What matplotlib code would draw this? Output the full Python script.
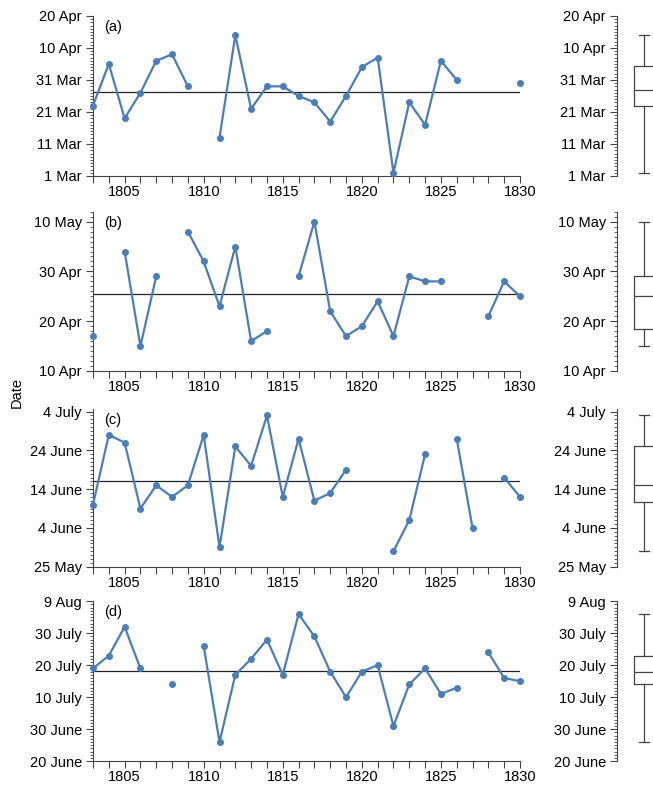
import numpy as np
import matplotlib
matplotlib.use('Agg')
import matplotlib.pyplot as plt
from matplotlib.ticker import MultipleLocator, FixedLocator, FixedFormatter

plt.rcParams['font.family'] = ['Liberation Sans', 'DejaVu Sans']

# 연도 (1803-1830), 값은 day-of-year (평년 기준), 결측은 nan
years = np.arange(1803, 1831)
nan = np.nan

doy_a = [82, 95, 78, 86, 96, 98, 88, nan, 72, 104, 81, 88, 88, 85,
         83, 77, 85, 94, 97, 61, 83, 76, 96, 90, nan, nan, nan, 89]
doy_b = [107, nan, 124, 105, 119, nan, 128, 122, 113, 125, 106, 108, nan, 119,
         130, 112, 107, 109, 114, 107, 119, 118, 118, nan, nan, 111, 118, 115]
doy_c = [161, 179, 177, 160, 166, 163, 166, 179, 150, 176, 171, 184, 163, 178,
         162, 164, 170, nan, nan, 149, 157, 174, nan, 178, 155, nan, 168, 163]
doy_d = [200, 204, 213, 200, nan, 195, nan, 207, 177, 198, 203, 209, 198, 217,
         210, 199, 191, 199, 201, 182, 195, 200, 192, 194, nan, 205, 197, 196]

# y축 눈금 (day-of-year) 과 라벨
ticks_a = [60, 70, 80, 90, 100, 110]
labels_a = ['1 Mar', '11 Mar', '21 Mar', '31 Mar', '10 Apr', '20 Apr']
ticks_b = [100, 110, 120, 130]
labels_b = ['10 Apr', '20 Apr', '30 Apr', '10 May']
ticks_c = [145, 155, 165, 175, 185]
labels_c = ['25 May', '4 June', '14 June', '24 June', '4 July']
ticks_d = [171, 181, 191, 201, 211, 221]
labels_d = ['20 June', '30 June', '10 July', '20 July', '30 July', '9 Aug']

panels = [
    ('(a)', doy_a, ticks_a, labels_a, (60, 110), 0.7761, 0.2036),
    ('(b)', doy_b, ticks_b, labels_b, (100, 132), 0.5280, 0.2027),
    ('(c)', doy_c, ticks_c, labels_c, (145, 185.6), 0.2790, 0.2003),
    ('(d)', doy_d, ticks_d, labels_d, (171, 221), 0.0315, 0.2036),
]

LINE_COLOR = '#4A7EBB'
AXIS_COLOR = '#444444'
FS = 10.5

fig = plt.figure(figsize=(6.53, 7.86), dpi=100)


def style_yaxis(ax, ticks, labels, ylim):
    ax.set_ylim(*ylim)
    ax.yaxis.set_major_locator(FixedLocator(ticks))
    ax.yaxis.set_major_formatter(FixedFormatter(labels))
    ax.yaxis.set_minor_locator(MultipleLocator(1))
    ax.tick_params(axis='y', which='major', direction='out', length=5,
                   width=0.8, color=AXIS_COLOR, labelsize=FS, pad=3)
    ax.tick_params(axis='y', which='minor', direction='out', length=2.5,
                   width=0.6, color=AXIS_COLOR)
    for s in ['top', 'right']:
        ax.spines[s].set_visible(False)
    ax.spines['left'].set_color(AXIS_COLOR)
    ax.spines['left'].set_linewidth(0.8)


for tag, vals, ticks, labels, ylim, bottom, height in panels:
    vals = np.array(vals, dtype=float)

    # 시계열 패널
    ax = fig.add_axes([0.1424, bottom, 0.6539, height])
    ax.plot(years, vals, '-o', color=LINE_COLOR, linewidth=1.6,
            markersize=4, clip_on=False, zorder=3)
    ax.axhline(np.nanmean(vals), color='#222222', linewidth=0.9, zorder=2)
    ax.set_xlim(1803, 1830)
    ax.xaxis.set_major_locator(MultipleLocator(5))
    ax.xaxis.set_minor_locator(MultipleLocator(1))
    ax.tick_params(axis='x', which='both', direction='out', length=5,
                   width=0.8, color=AXIS_COLOR, labelsize=FS, pad=1.5)
    style_yaxis(ax, ticks, labels, ylim)
    ax.spines['bottom'].set_color(AXIS_COLOR)
    ax.spines['bottom'].set_linewidth(0.8)
    ax.text(0.026, 0.93, tag, transform=ax.transAxes, fontsize=FS,
            ha='left', va='center')

    # 박스플롯 패널
    bx = fig.add_axes([0.9449, bottom, 0.0551, height])
    clean = vals[~np.isnan(vals)]
    props = dict(color=AXIS_COLOR, linewidth=0.9)
    bx.boxplot(clean, positions=[0.75], widths=0.55, whis=(0, 100),
               showfliers=False, boxprops=props, whiskerprops=props,
               capprops=props, medianprops=props)
    bx.set_xlim(0, 1)
    bx.set_xticks([])
    bx.spines['bottom'].set_visible(False)
    style_yaxis(bx, ticks, labels, ylim)

fig.text(0.026, 0.5, 'Date', rotation=90, fontsize=FS, ha='center', va='center')

fig.savefig('out.png', dpi=100)
